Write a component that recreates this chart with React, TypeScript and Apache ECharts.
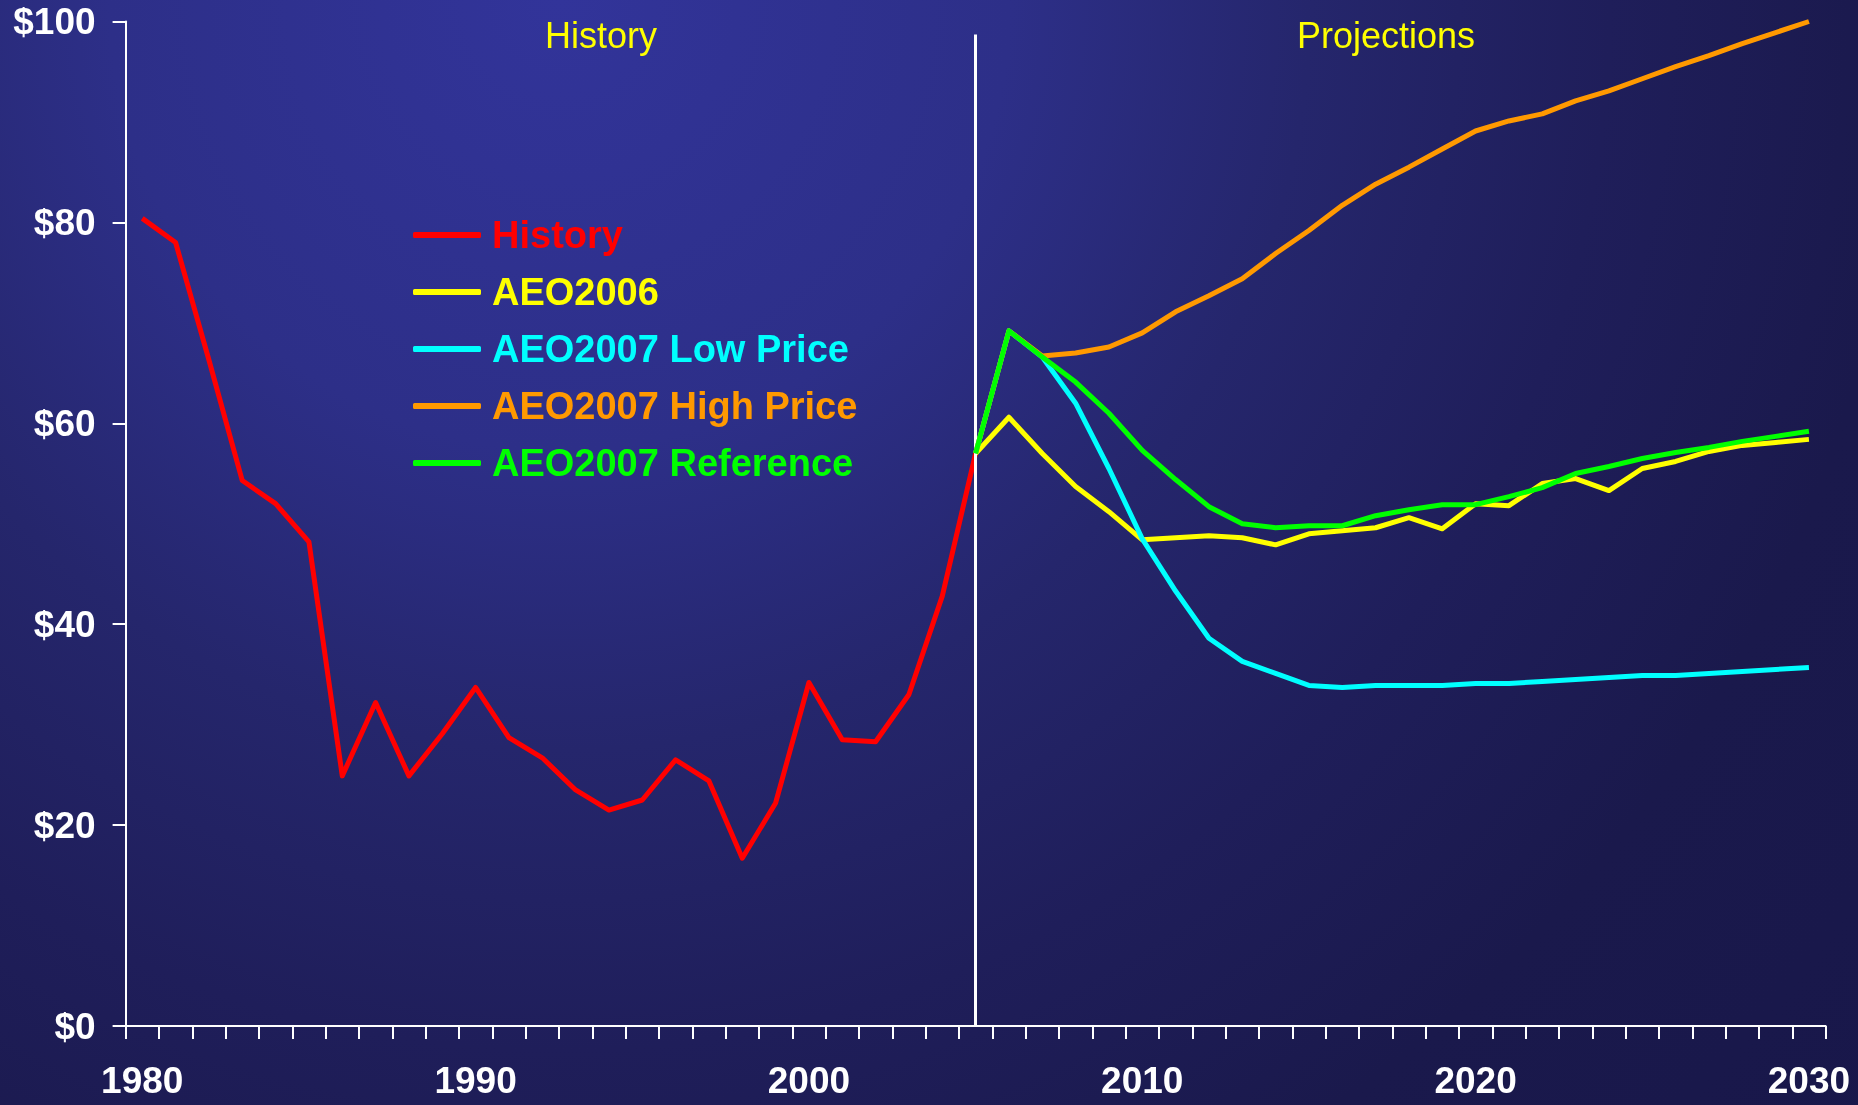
import React, { useEffect, useRef } from "react";
import * as echarts from "echarts";

const years = [
  "1980","1981","1982","1983","1984","1985","1986","1987","1988","1989",
  "1990","1991","1992","1993","1994","1995","1996","1997","1998","1999",
  "2000","2001","2002","2003","2004","2005","2006","2007","2008","2009",
  "2010","2011","2012","2013","2014","2015","2016","2017","2018","2019",
  "2020","2021","2022","2023","2024","2025","2026","2027","2028","2029","2030",
];

// 1980-2005
const historyValues = [
  80.4, 78.0, 66.3, 54.3, 52.0, 48.2, 24.9, 32.2, 24.9, 29.1,
  33.7, 28.7, 26.7, 23.5, 21.5, 22.5, 26.5, 24.4, 16.7, 22.2,
  34.2, 28.5, 28.3, 33.0, 42.8, 57.0,
];

// 2005-2030
const aeo2006Values = [
  57.0, 60.6, 57.0, 53.7, 51.2, 48.4, 48.6, 48.8, 48.6, 47.9,
  49.0, 49.3, 49.6, 50.6, 49.5, 52.0, 51.8, 54.0, 54.5, 53.3,
  55.5, 56.2, 57.2, 57.8, 58.1, 58.4,
];
const lowPriceValues = [
  57.0, 69.2, 66.6, 62.0, 55.5, 48.5, 43.3, 38.6, 36.3, 35.1,
  33.9, 33.7, 33.9, 33.9, 33.9, 34.1, 34.1, 34.3, 34.5, 34.7,
  34.9, 34.9, 35.1, 35.3, 35.5, 35.7,
];
const highPriceValues = [
  57.0, 69.2, 66.7, 67.0, 67.6, 69.0, 71.1, 72.7, 74.4, 76.9,
  79.2, 81.7, 83.8, 85.5, 87.3, 89.1, 90.1, 90.8, 92.1, 93.1,
  94.3, 95.5, 96.6, 97.8, 98.9, 100.0,
];
const referenceValues = [
  57.0, 69.2, 66.6, 64.1, 61.0, 57.3, 54.4, 51.7, 50.0, 49.6,
  49.8, 49.8, 50.8, 51.4, 51.9, 51.9, 52.7, 53.6, 55.0, 55.7,
  56.5, 57.1, 57.6, 58.2, 58.7, 59.2,
];

const yTicks = [0, 20, 40, 60, 80, 100];

const seriesNames = ["History", "AEO2006", "AEO2007 Low Price", "AEO2007 High Price", "AEO2007 Reference"];
const seriesColors = ["#ff0000", "#ffff00", "#00ffff", "#ff9900", "#00ff00"];

const FONT = "'Liberation Sans', Arial, Helvetica, sans-serif";

export default function App() {
  const ref = useRef<HTMLDivElement>(null);

  useEffect(() => {
    document.body.style.margin = "0";
    const chart = echarts.init(ref.current!, null, { renderer: "svg" });

    const histData = [...historyValues, ...new Array(years.length - historyValues.length).fill(null)];
    const proj = (arr: number[]) => [...new Array(years.length - arr.length).fill(null), ...arr];
    const dataSets = [histData, proj(aeo2006Values), proj(lowPriceValues), proj(highPriceValues), proj(referenceValues)];

    const series: any[] = seriesNames.map((name, i) => ({
      name,
      type: "line",
      data: dataSets[i],
      symbol: "none",
      showSymbol: false,
      connectNulls: false,
      lineStyle: { color: seriesColors[i], width: 5, join: "round" },
      itemStyle: { color: seriesColors[i] },
      z: 3 + i,
    }));

    series[0].markLine = {
      silent: true,
      symbol: "none",
      label: { show: false },
      lineStyle: { color: "#ffffff", width: 3, type: "solid" },
      data: [[{ coord: ["2005", 98.7] }, { coord: ["2005", 0] }]],
    };

    chart.setOption({
      animation: false,
      backgroundColor: "transparent",
      textStyle: { fontFamily: FONT },
      grid: { left: 125.6, right: 32.4, top: 21.5, bottom: 79, containLabel: false },
      legend: {
        orient: "vertical",
        left: 413,
        top: 215,
        padding: 0,
        icon: "roundRect",
        itemWidth: 68,
        itemHeight: 6,
        itemGap: 17,
        textStyle: {
          fontSize: 38,
          fontWeight: "bold",
          lineHeight: 40,
          fontFamily: FONT,
          padding: [0, 0, 0, 6],
        },
        data: seriesNames.map((n, i) => ({ name: n, textStyle: { color: seriesColors[i] } })),
        selectedMode: false,
      },
      xAxis: {
        type: "category",
        data: years,
        boundaryGap: true,
        axisLine: { lineStyle: { color: "#ffffff", width: 2 } },
        axisTick: { show: true, interval: 0, length: 13, lineStyle: { color: "#ffffff", width: 2 } },
        axisLabel: {
          interval: 9,
          color: "#ffffff",
          fontSize: 37,
          fontWeight: "bold",
          fontFamily: FONT,
          margin: 36,
        },
        splitLine: { show: false },
      },
      yAxis: {
        type: "value",
        min: 0,
        max: 100,
        interval: 20,
        axisLine: { show: true, lineStyle: { color: "#ffffff", width: 2 } },
        axisTick: { show: true, length: 13, lineStyle: { color: "#ffffff", width: 2 } },
        axisLabel: {
          color: "#ffffff",
          fontSize: 37,
          fontWeight: "bold",
          fontFamily: FONT,
          margin: 30,
          formatter: (v: number) => (yTicks.includes(v) ? "$" + v : ""),
        },
        splitLine: { show: false },
      },
      graphic: [
        {
          type: "text",
          left: 545,
          top: 17,
          style: { text: "History", fill: "#ffff00", fontSize: 36, fontFamily: FONT },
          silent: true,
        },
        {
          type: "text",
          left: 1297,
          top: 17,
          style: { text: "Projections", fill: "#ffff00", fontSize: 36, fontFamily: FONT },
          silent: true,
        },
      ],
      series,
    });

    return () => chart.dispose();
  }, []);

  return (
    <div
      ref={ref}
      style={{
        position: "fixed",
        left: 0,
        top: 0,
        width: 1858,
        height: 1105,
        background:
          "radial-gradient(circle at 560px 0px, #32349a 0px, #2d2f88 450px, #25266c 750px, #1f1e5a 1050px, #1a194c 1350px, #18174a 1800px)",
      }}
    />
  );
}
